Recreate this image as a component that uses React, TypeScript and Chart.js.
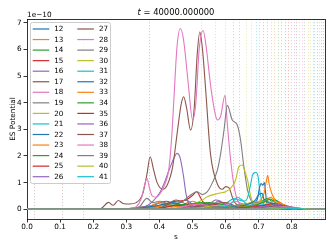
import React, { useEffect, useRef } from "react";
import { Chart, registerables } from "chart.js";

Chart.register(...registerables);

const FONT = "'DejaVu Sans'";
const TAB10 = ["#1f77b4", "#ff7f0e", "#2ca02c", "#d62728", "#9467bd", "#8c564b", "#e377c2", "#7f7f7f", "#bcbd22", "#17becf"];

const SERIES_LABELS = ["12","13","14","15","16","17","18","19","20","21","22","23","24","25","26","27","28","29","30","31","32","33","34","35","36","37","38","39","40","41"];

type P = [number, number][];
const S12: P = [[0,0],[0.16,0],[0.2,0.03],[0.24,0],[0.3,0.02],[0.34,0.08],[0.38,0.15],[0.42,0.3],[0.45,0.2],[0.48,0.35],[0.5,0.2],[0.54,0.12],[0.58,0.2],[0.62,0.05],[0.66,0],[0.9,0]];
const S13: P = [[0,0],[0.28,0],[0.33,0.06],[0.37,0.12],[0.4,0.25],[0.43,0.12],[0.47,0.18],[0.5,0.3],[0.53,0.15],[0.57,0.1],[0.62,0.03],[0.66,0],[0.9,0]];
const S14: P = [[0,0],[0.3,0],[0.35,0.05],[0.4,0.12],[0.44,0.2],[0.48,0.15],[0.52,0.25],[0.56,0.12],[0.6,0.06],[0.65,0],[0.9,0]];
const S15: P = [[0,0],[0.32,0],[0.38,0.08],[0.42,0.22],[0.45,0.3],[0.48,0.35],[0.5,0.52],[0.512,0.66],[0.53,0.3],[0.55,0.15],[0.6,0.06],[0.65,0],[0.9,0]];
const S16: P = [[0,0],[0.3,0],[0.34,0.05],[0.36,0.12],[0.38,0.3],[0.4,0.6],[0.415,1.0],[0.43,1.5],[0.445,1.95],[0.453,2.1],[0.462,1.95],[0.472,1.3],[0.48,0.6],[0.49,0.15],[0.5,0.05],[0.56,0.05],[0.575,0.3],[0.59,0.25],[0.62,0.05],[0.66,0],[0.9,0]];
const S17: P = [[0,0],[0.2,0],[0.225,0.04],[0.246,0.26],[0.26,0.15],[0.276,0.33],[0.29,0.22],[0.31,0.2],[0.33,0.25],[0.35,0.6],[0.362,1.3],[0.372,1.97],[0.382,1.5],[0.393,1.0],[0.41,0.75],[0.425,0.95],[0.44,1.6],[0.455,3.0],[0.465,3.9],[0.473,4.22],[0.482,3.8],[0.494,2.97],[0.505,3.8],[0.514,5.8],[0.522,6.65],[0.53,6.0],[0.539,4.59],[0.554,2.1],[0.575,0.95],[0.59,0.75],[0.6,0.85],[0.61,0.8],[0.625,0.3],[0.66,0.05],[0.7,0],[0.9,0]];
const S18: P = [[0,0],[0.3,0],[0.33,0.1],[0.345,0.4],[0.355,0.9],[0.362,1.16],[0.37,0.8],[0.378,0.5],[0.39,0.45],[0.403,0.6],[0.415,0.9],[0.428,1.47],[0.437,2.7],[0.443,3.98],[0.453,6.09],[0.463,6.78],[0.473,6.34],[0.488,4.59],[0.5,3.35],[0.51,4.0],[0.52,6.0],[0.532,6.71],[0.54,6.2],[0.555,4.6],[0.568,3.6],[0.575,3.35],[0.585,3.5],[0.598,4.28],[0.605,3.2],[0.615,1.85],[0.625,0.9],[0.635,0.35],[0.65,0.1],[0.68,0],[0.9,0]];
const S19: P = [[0,0],[0.3,0],[0.34,0.1],[0.362,0.41],[0.38,0.25],[0.4,0.3],[0.43,0.2],[0.47,0.3],[0.49,0.5],[0.514,0.66],[0.53,0.55],[0.544,0.65],[0.56,1.0],[0.575,1.47],[0.585,2.1],[0.595,2.97],[0.605,3.9],[0.62,3.35],[0.635,3.16],[0.645,2.6],[0.655,1.6],[0.666,0.72],[0.676,0.35],[0.69,0.15],[0.72,0.05],[0.76,0],[0.9,0]];
const S20: P = [[0,0],[0.4,0],[0.45,0.1],[0.5,0.2],[0.53,0.35],[0.544,0.47],[0.58,0.6],[0.6,0.66],[0.615,0.79],[0.63,1.1],[0.64,1.6],[0.65,1.66],[0.66,1.35],[0.666,1.1],[0.676,0.47],[0.69,0.1],[0.72,0],[0.9,0]];
const S21: P = [[0,0],[0.4,0],[0.5,0.05],[0.58,0.1],[0.6,0.2],[0.61,0.3],[0.625,0.4],[0.64,0.35],[0.655,0.3],[0.665,0.4],[0.676,0.97],[0.681,1.28],[0.691,1.39],[0.698,1.22],[0.703,0.7],[0.71,0.3],[0.73,0.1],[0.76,0],[0.9,0]];
const S22: P = [[0,0],[0.32,0],[0.36,0.08],[0.4,0.15],[0.44,0.25],[0.48,0.15],[0.52,0.2],[0.56,0.12],[0.6,0.1],[0.65,0.15],[0.68,0.25],[0.695,0.35],[0.702,0.8],[0.707,0.97],[0.712,0.9],[0.717,1.0],[0.72,0.7],[0.725,0.16],[0.74,0.1],[0.77,0],[0.9,0]];
const S23: P = [[0,0],[0.33,0],[0.38,0.06],[0.42,0.15],[0.46,0.1],[0.5,0.18],[0.55,0.1],[0.6,0.06],[0.65,0.1],[0.69,0.2],[0.706,0.35],[0.716,0.6],[0.722,1.0],[0.727,1.28],[0.731,0.97],[0.736,0.72],[0.746,0.41],[0.762,0.28],[0.777,0.16],[0.8,0.05],[0.83,0],[0.9,0]];
const S24: P = [[0,0],[0.36,0],[0.4,0.06],[0.45,0.15],[0.5,0.22],[0.55,0.25],[0.6,0.15],[0.65,0.1],[0.7,0.2],[0.715,0.35],[0.727,0.41],[0.74,0.3],[0.75,0.35],[0.77,0.15],[0.8,0.05],[0.83,0],[0.9,0]];
const S25: P = [[0,0],[0.38,0],[0.42,0.08],[0.45,0.15],[0.5,0.1],[0.55,0.22],[0.6,0.1],[0.65,0.15],[0.7,0.1],[0.73,0.2],[0.76,0.15],[0.8,0.03],[0.84,0],[0.9,0]];
const S26: P = [[0,0],[0.42,0],[0.46,0.05],[0.5,0.1],[0.55,0.2],[0.57,0.35],[0.585,0.3],[0.6,0.15],[0.65,0.1],[0.7,0.15],[0.74,0.1],[0.78,0.05],[0.82,0],[0.9,0]];
const S27: P = [[0,0],[0.38,0],[0.42,0.15],[0.45,0.35],[0.48,0.2],[0.52,0.1],[0.56,0.2],[0.6,0.25],[0.64,0.1],[0.68,0.15],[0.72,0.1],[0.76,0.05],[0.8,0],[0.9,0]];
const S28: P = [[0,0],[0.42,0],[0.47,0.1],[0.52,0.2],[0.56,0.1],[0.6,0.15],[0.63,0.3],[0.66,0.15],[0.7,0.1],[0.74,0.15],[0.78,0.05],[0.82,0],[0.9,0]];
const S29: P = [[0,0],[0.45,0],[0.5,0.05],[0.55,0.1],[0.6,0.1],[0.65,0.2],[0.69,0.25],[0.72,0.3],[0.75,0.2],[0.78,0.1],[0.82,0.03],[0.85,0],[0.9,0]];
const S30: P = [[0,0],[0.45,0],[0.52,0.05],[0.58,0.15],[0.62,0.1],[0.66,0.2],[0.7,0.3],[0.73,0.2],[0.76,0.15],[0.8,0.05],[0.84,0],[0.9,0]];
const S31: P = [[0,0],[0.5,0],[0.55,0.05],[0.6,0.1],[0.62,0.25],[0.635,0.45],[0.65,0.35],[0.67,0.15],[0.7,0.2],[0.74,0.1],[0.78,0.05],[0.82,0],[0.9,0]];
const S32: P = [[0,0],[0.5,0],[0.58,0.05],[0.63,0.1],[0.67,0.2],[0.69,0.35],[0.7,0.55],[0.71,0.6],[0.715,0.4],[0.73,0.25],[0.76,0.1],[0.8,0.03],[0.84,0],[0.9,0]];
const S33: P = [[0,0],[0.52,0],[0.6,0.05],[0.66,0.1],[0.7,0.2],[0.72,0.3],[0.735,0.45],[0.75,0.3],[0.77,0.2],[0.8,0.08],[0.84,0],[0.9,0]];
const S34: P = [[0,0],[0.55,0],[0.62,0.05],[0.67,0.1],[0.7,0.2],[0.72,0.3],[0.735,0.38],[0.75,0.25],[0.78,0.12],[0.82,0.03],[0.85,0],[0.9,0]];
const S35: P = [[0,0],[0.55,0],[0.62,0.03],[0.68,0.08],[0.72,0.15],[0.745,0.22],[0.77,0.15],[0.8,0.06],[0.84,0],[0.9,0]];
const S36: P = [[0,0],[0.58,0],[0.65,0.03],[0.7,0.08],[0.74,0.15],[0.76,0.18],[0.78,0.12],[0.81,0.05],[0.85,0],[0.9,0]];
const S37: P = [[0,0],[0.6,0],[0.68,0.03],[0.72,0.07],[0.76,0.13],[0.78,0.12],[0.8,0.07],[0.83,0.02],[0.86,0],[0.9,0]];
const S38: P = [[0,0],[0.62,0],[0.7,0.03],[0.75,0.08],[0.78,0.1],[0.8,0.08],[0.83,0.03],[0.86,0],[0.9,0]];
const S39: P = [[0,0],[0.65,0],[0.72,0.02],[0.76,0.05],[0.79,0.08],[0.81,0.06],[0.84,0.02],[0.87,0],[0.9,0]];
const S40: P = [[0,0],[0.68,0],[0.75,0.02],[0.79,0.05],[0.82,0.04],[0.85,0.01],[0.88,0],[0.9,0]];
const S41: P = [[0,0],[0.7,0],[0.77,0.01],[0.8,0.03],[0.83,0.02],[0.86,0],[0.9,0]];

const SERIES_POINTS: P[] = [S12,S13,S14,S15,S16,S17,S18,S19,S20,S21,S22,S23,S24,S25,S26,S27,S28,S29,S30,S31,S32,S33,S34,S35,S36,S37,S38,S39,S40,S41];

const X_TICKS = [0, 0.1, 0.2, 0.3, 0.4, 0.5, 0.6, 0.7, 0.8];
const Y_TICKS = [0, 1, 2, 3, 4, 5, 6, 7];
const X_MIN = 0;
const X_MAX = 0.9;
const Y_MIN = -0.364;
const Y_MAX = 7.139;

const VLINE_S = [0.02,0.105,0.169,0.369,0.524,0.569,0.599,0.623,0.64,0.66,0.676,0.691,0.701,0.714,0.724,0.738,0.746,0.757,0.767,0.78,0.787,0.797,0.805,0.812,0.822,0.83,0.837,0.848,0.855,0.863,0.868,0.875,0.881,0.888,0.894,0.9];
const VLINE_COLOR = [5,5,5,5,6,6,6,7,7,8,8,9,9,0,0,1,1,2,2,3,3,4,4,5,6,6,7,8,8,9,9,0,1,2,3,3];

const TITLE_VAR = "t";
const TITLE_VALUE = "40000.000000";
const OFFSET_TEXT = "1e\u221210";
const X_LABEL = "s";
const Y_LABEL = "ES Potential";

function hexA(hex: string, a: number) {
  const n = parseInt(hex.slice(1), 16);
  return `rgba(${(n >> 16) & 255},${(n >> 8) & 255},${n & 255},${a})`;
}

const vlinesPlugin = {
  id: "vlines",
  beforeDatasetsDraw(chart: any) {
    const { ctx, chartArea: a, scales } = chart;
    ctx.save();
    ctx.beginPath();
    ctx.rect(a.left, a.top, a.right - a.left, a.bottom - a.top);
    ctx.clip();
    ctx.lineWidth = 1;
    ctx.setLineDash([1.2, 1.8]);
    VLINE_S.forEach((s, i) => {
      const x = Math.round(scales.x.getPixelForValue(s)) + 0.5;
      ctx.strokeStyle = hexA(TAB10[VLINE_COLOR[i]], 0.3);
      ctx.beginPath();
      ctx.moveTo(x, a.top);
      ctx.lineTo(x, a.bottom);
      ctx.stroke();
    });
    ctx.restore();
  },
};

const decorPlugin = {
  id: "decor",
  afterDatasetsDraw(chart: any) {
    const { ctx, chartArea: a } = chart;
    ctx.save();
    // legend
    const x0 = a.left + 3, y0 = a.top + 3, w = 80, h = 161;
    ctx.beginPath();
    (ctx as any).roundRect(x0 + 0.5, y0 + 0.5, w, h, 2);
    ctx.fillStyle = "rgba(255,255,255,0.8)";
    ctx.fill();
    ctx.strokeStyle = "#cccccc";
    ctx.lineWidth = 1;
    ctx.stroke();
    const rows = Math.ceil(SERIES_LABELS.length / 2);
    ctx.font = `7.2px ${FONT}`;
    ctx.textBaseline = "middle";
    ctx.textAlign = "left";
    SERIES_LABELS.forEach((lab, i) => {
      const col = Math.floor(i / rows);
      const row = i % rows;
      const cy = a.top + 10 + row * 10.55;
      const hx = a.left + 5.7 + col * 44.6;
      ctx.strokeStyle = TAB10[i % 10];
      ctx.lineWidth = 1.2;
      ctx.beginPath();
      ctx.moveTo(hx, cy);
      ctx.lineTo(hx + 16.6, cy);
      ctx.stroke();
      ctx.fillStyle = "#000";
      ctx.fillText(lab, hx + 21.6, cy + 0.3);
    });
    // top & right spines
    ctx.strokeStyle = "#000";
    ctx.lineWidth = 0.8;
    ctx.beginPath();
    ctx.moveTo(a.left, Math.round(a.top) + 0.5);
    ctx.lineTo(a.right, Math.round(a.top) + 0.5);
    ctx.moveTo(Math.round(a.right) + 0.5, a.top);
    ctx.lineTo(Math.round(a.right) + 0.5, a.bottom);
    ctx.stroke();
    // title
    const cx = (a.left + a.right) / 2;
    ctx.fillStyle = "#000";
    ctx.textBaseline = "alphabetic";
    ctx.font = `italic 8.4px ${FONT}`;
    const wt = ctx.measureText(TITLE_VAR).width;
    ctx.font = `8.4px ${FONT}`;
    const rest = " = " + TITLE_VALUE;
    const wr = ctx.measureText(rest).width;
    const tx = cx - (wt + wr) / 2;
    ctx.font = `italic 8.4px ${FONT}`;
    ctx.fillText(TITLE_VAR, tx, 15.2);
    ctx.font = `8.4px ${FONT}`;
    ctx.fillText(rest, tx + wt, 15.2);
    // offset text
    ctx.font = `7.3px ${FONT}`;
    ctx.fillText(OFFSET_TEXT, a.left, 16.5);
    // x label
    ctx.textAlign = "center";
    ctx.fillText(X_LABEL, cx, 239);
    // y label
    ctx.translate(15, (a.top + a.bottom) / 2);
    ctx.rotate(-Math.PI / 2);
    ctx.fillText(Y_LABEL, 0, 0);
    ctx.restore();
  },
};

export default function App() {
  const ref = useRef<HTMLCanvasElement | null>(null);
  useEffect(() => {
    document.body.style.margin = "0";
    Chart.defaults.font.family = FONT;
    Chart.defaults.color = "#000";
    const tickFont = { size: 7.3, family: FONT };
    const gridOpts = { display: true, drawOnChartArea: false, drawTicks: true, tickLength: 3.5, tickColor: "#000", tickWidth: 0.8 };
    const chart = new Chart(ref.current as HTMLCanvasElement, {
      type: "line",
      data: {
        datasets: SERIES_POINTS.map((pts, i) => ({
          label: SERIES_LABELS[i],
          data: pts.map(([x, y]) => ({ x, y })),
          borderColor: TAB10[i % 10],
          backgroundColor: TAB10[i % 10],
          borderWidth: 1.1,
          pointRadius: 0,
          cubicInterpolationMode: "monotone",
          fill: false,
          order: SERIES_POINTS.length - i,
        })),
      },
      options: {
        animation: false,
        responsive: false,
        devicePixelRatio: 1,
        layout: { padding: { top: 19, right: 7, left: 0, bottom: 0 } },
        plugins: { legend: { display: false }, tooltip: { enabled: false }, title: { display: false } },
        events: [],
        scales: {
          x: {
            type: "linear",
            min: X_MIN,
            max: X_MAX,
            afterFit: (s: any) => { s.height = 30; },
            afterBuildTicks: (s: any) => { s.ticks = X_TICKS.map((v) => ({ value: v })); },
            ticks: { callback: (v: any) => Number(v).toFixed(1), font: tickFont, color: "#000", padding: 0.5, maxRotation: 0, autoSkip: false },
            grid: gridOpts,
            border: { display: true, color: "#000", width: 0.8 },
          },
          y: {
            type: "linear",
            min: Y_MIN,
            max: Y_MAX,
            afterFit: (s: any) => { s.width = 27; },
            afterBuildTicks: (s: any) => { s.ticks = Y_TICKS.map((v) => ({ value: v })); },
            ticks: { callback: (v: any) => String(Math.round(Number(v))), font: tickFont, color: "#000", padding: 1.8, autoSkip: false },
            grid: gridOpts,
            border: { display: true, color: "#000", width: 0.8 },
          },
        },
      } as any,
      plugins: [vlinesPlugin, decorPlugin],
    });
    return () => chart.destroy();
  }, []);
  return (
    <div style={{ width: 332, height: 249 }}>
      <canvas ref={ref} width={332} height={249} style={{ display: "block", width: 332, height: 249 }} />
    </div>
  );
}
